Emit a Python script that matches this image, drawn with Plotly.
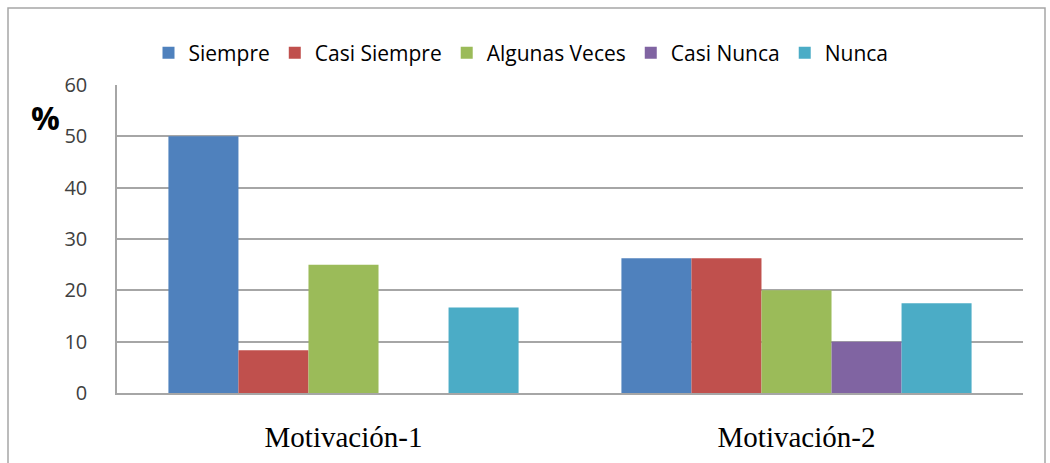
import plotly.graph_objects as go

categories = ["Motivación-1", "Motivación-2"]
series_names = ["Siempre", "Casi Siempre", "Algunas Veces", "Casi Nunca", "Nunca"]
siempre = [50, 26.25]
casi_siempre = [8.33, 26.25]
algunas_veces = [25, 20]
casi_nunca = [0, 10]
nunca = [16.67, 17.5]
y_ticks = [0, 10, 20, 30, 40, 50, 60]

series_values = [siempre, casi_siempre, algunas_veces, casi_nunca, nunca]
colors = ["#4F81BD", "#C0504D", "#9BBB59", "#8064A2", "#4BACC6"]

fig = go.Figure()
for name, vals, col in zip(series_names, series_values, colors):
    fig.add_trace(go.Bar(x=categories, y=vals, name=name, marker_color=col,
                         marker_line_width=0))

W, H = 1050, 463
L, R, T, B = 117, 27, 85, 70
pw, ph = W - L - R, H - T - B

def px(x):
    return (x - L) / pw

def py(y):
    return (H - B - y) / ph

fig.update_layout(
    width=W, height=H,
    margin=dict(l=L, r=R, t=T, b=B, autoexpand=False),
    paper_bgcolor="white", plot_bgcolor="white",
    barmode="group", bargap=0.227, bargroupgap=0,
    showlegend=True,
    legend=dict(orientation="h", x=px(521), xanchor="center", y=py(53), yanchor="middle",
                font=dict(family="Open Sans", size=21, color="#000000"),
                itemwidth=30, traceorder="normal"),
    xaxis=dict(showgrid=False, showline=True, linecolor="#A6A6A6", linewidth=1.5,
               tickfont=dict(family="Liberation Serif", size=29, color="#000000"),
               ticks="", ticklabelstandoff=17, automargin=False),
    yaxis=dict(range=[0, 60], tickvals=y_ticks, showgrid=True, gridcolor="#A6A6A6",
               gridwidth=1.5, showline=True, linecolor="#A6A6A6", linewidth=1.5,
               zeroline=False, automargin=False,
               tickfont=dict(family="Open Sans", size=20, color="#404040"),
               ticks="", ticklabelstandoff=24),
    annotations=[dict(text="<b>%</b>", xref="paper", yref="paper", x=px(45), y=py(118),
                      xanchor="center", yanchor="middle", showarrow=False,
                      font=dict(family="Open Sans", size=32, color="#000000"))],
    shapes=[dict(type="rect", xref="paper", yref="paper", x0=px(8), x1=px(1045),
                 y0=py(480), y1=py(8), line=dict(color="#A6A6A6", width=1.5),
                 layer="below")],
)

fig.write_html("out.html", config={"displayModeBar": False},
               post_script="document.body.style.margin='0';")
